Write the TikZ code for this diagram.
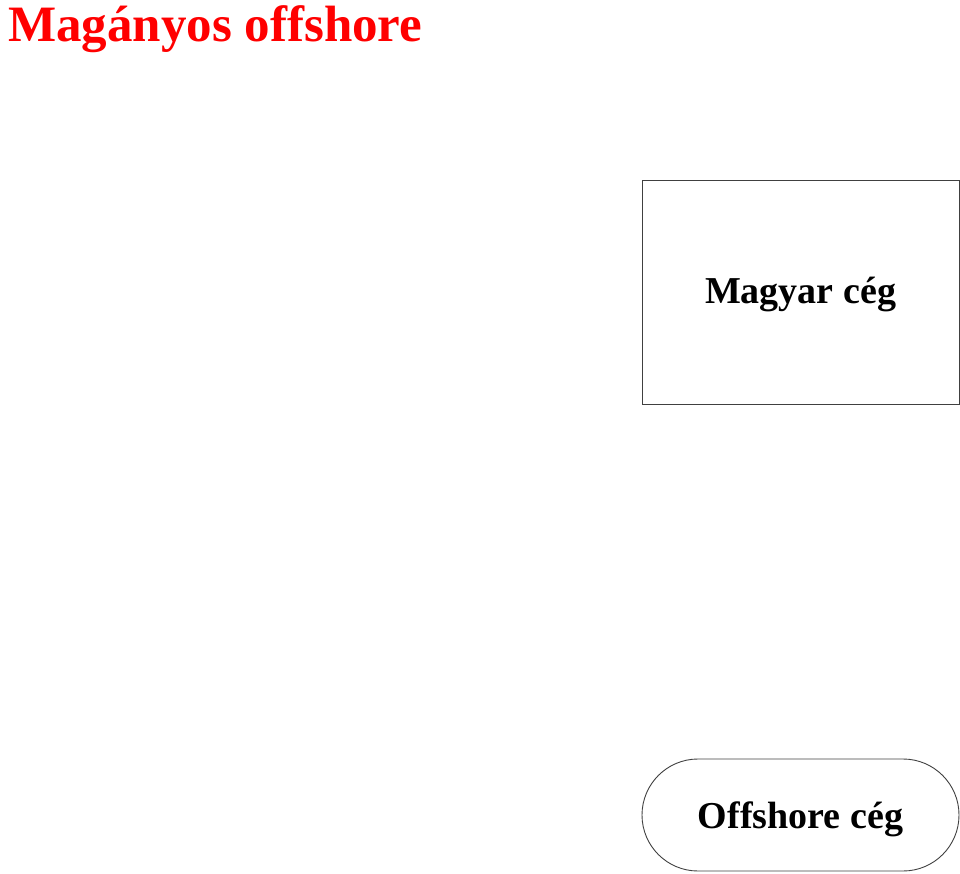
\documentclass[tikz,border=0pt]{standalone}
\usepackage{fontspec}
\setmainfont{Liberation Serif}

\begin{document}
\begin{tikzpicture}[x=1pt, y=-1pt,
    box/.style={draw=black!75, line width=0.9pt, inner sep=0pt, font=\bfseries\fontsize{38}{44}\selectfont}]
    \useasboundingbox (0, 0) rectangle (960, 874);
    \node [anchor=base west, inner sep=0pt, text=red, font=\bfseries\fontsize{51}{58}\selectfont] (title) at (8, 42) {Magányos offshore};
    \node [box, minimum width=317pt, minimum height=224pt, text depth=0pt] (magyar) at (800.5, 292) {};
    \node [anchor=base, font=\bfseries\fontsize{38}{44}\selectfont, inner sep=0pt] (magyartext) at (magyar.center |- 0, 304) {Magyar cég};
    \node [box, minimum width=317pt, minimum height=112pt, rounded corners=56pt] (offshore) at (800.5, 815) {};
    \node [anchor=base, font=\bfseries\fontsize{38}{44}\selectfont, inner sep=0pt] (offshoretext) at (offshore.center |- 0, 828) {Offshore cég};
  \end{tikzpicture}
\end{document}
